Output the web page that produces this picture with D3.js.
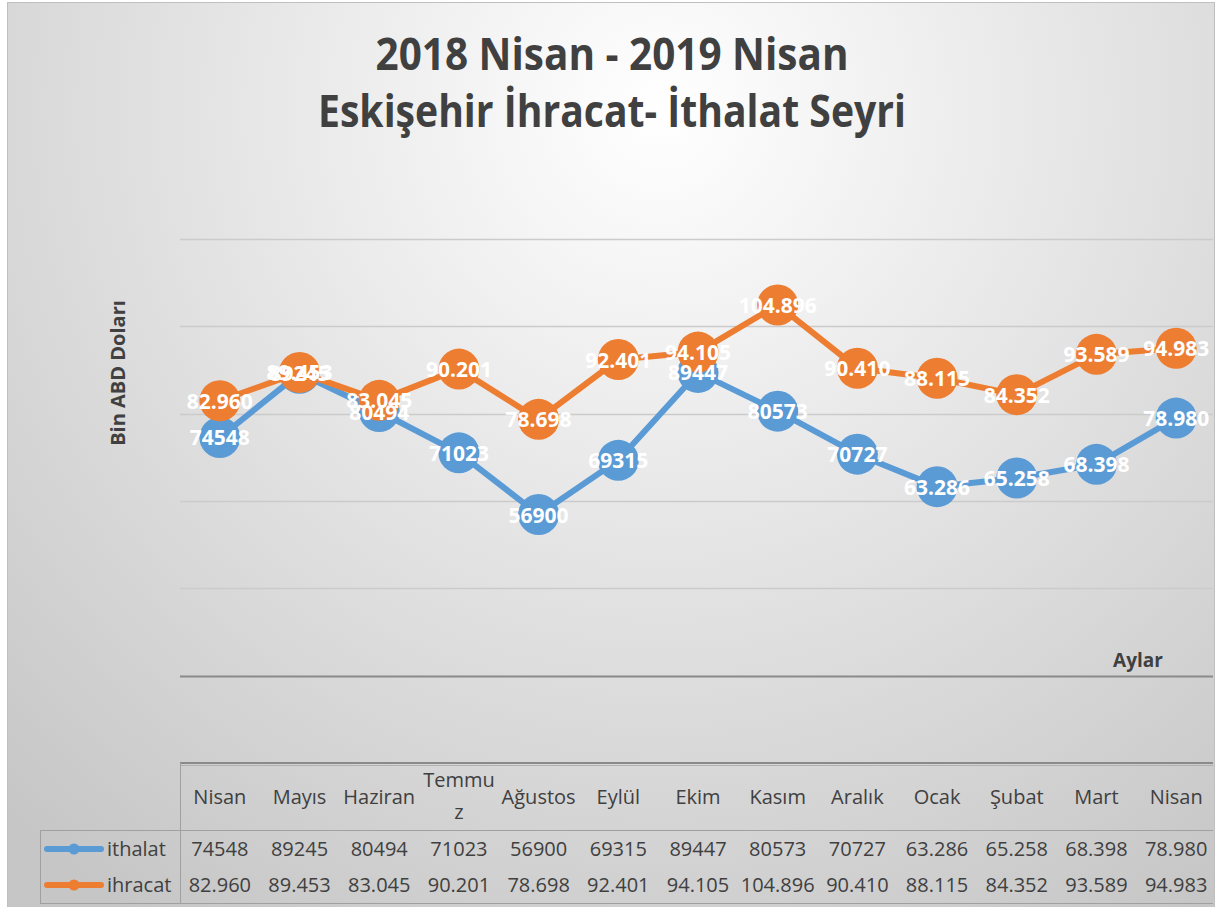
<!DOCTYPE html>
<html>
<head>
<meta charset="utf-8">
<script src="https://cdn.jsdelivr.net/npm/d3@7"></script>
<style>
  body { margin: 0; background: #ffffff; }
  svg { display: block; font-family: "Open Sans", sans-serif; }
</style>
</head>
<body>
<svg id="chart" width="1218" height="907"></svg>
<script>
// data
var aylar = ["Nisan","Mayıs","Haziran","Temmuz","Ağustos","Eylül","Ekim","Kasım","Aralık","Ocak","Şubat","Mart","Nisan"];
var ithalat = [74548, 89245, 80494, 71023, 56900, 69315, 89447, 80573, 70727, 63286, 65258, 68398, 78980];
var ihracat = [82960, 89453, 83045, 90201, 78698, 92401, 94105, 104896, 90410, 88115, 84352, 93589, 94983];
// labels exactly as printed in the chart
var ithalatText = ["74548","89245","80494","71023","56900","69315","89447","80573","70727","63.286","65.258","68.398","78.980"];
var ihracatText = ["82.960","89.453","83.045","90.201","78.698","92.401","94.105","104.896","90.410","88.115","84.352","93.589","94.983"];
var yTicks = [0, 20000, 40000, 60000, 80000, 100000, 120000];

var seriler = [
    {name: "ithalat", values: ithalat, text: ithalatText, color: "#5B9BD5"},
    {name: "ihracat", values: ihracat, text: ihracatText, color: "#ED7D31"}
];

var svg = d3.select("#chart");

// background
var defs = svg.append("defs");
var grad = defs.append("radialGradient")
    .attr("id", "bg")
    .attr("gradientUnits", "userSpaceOnUse")
    .attr("cx", 660).attr("cy", 110).attr("r", 960);
grad.append("stop").attr("offset", "0").attr("stop-color", "#ffffff");
grad.append("stop").attr("offset", "0.35").attr("stop-color", "#ebebeb");
grad.append("stop").attr("offset", "0.7").attr("stop-color", "#d7d7d7");
grad.append("stop").attr("offset", "1").attr("stop-color", "#c6c6c6");

svg.append("rect")
    .attr("x", 7.5).attr("y", 2.5)
    .attr("width", 1207).attr("height", 910)
    .attr("fill", "url(#bg)")
    .attr("stroke", "#bfbfbf");

// scales
var plotLeft = 180, plotRight = 1216;
var x = d3.scaleBand()
    .domain(d3.range(aylar.length))
    .range([plotLeft, plotRight]);
var y = d3.scaleLinear()
    .domain([0, 120000])
    .range([763, 239]);

// title
var title = svg.append("g").attr("fill", "#404040")
    .attr("font-weight", "bold").attr("font-size", "45px")
    .attr("text-anchor", "middle");
title.append("text").attr("x", 612).attr("y", 70)
    .attr("textLength", 473).attr("lengthAdjust", "spacingAndGlyphs")
    .text("2018 Nisan - 2019 Nisan");
title.append("text").attr("x", 612).attr("y", 127)
    .attr("textLength", 588).attr("lengthAdjust", "spacingAndGlyphs")
    .text("Eskişehir İhracat- İthalat Seyri");

// gridlines
svg.append("g").selectAll("line")
    .data(yTicks.filter(function(d){ return d > 0; }))
    .enter().append("line")
    .attr("x1", plotLeft).attr("x2", 1213)
    .attr("y1", function(d){ return Math.round(y(d)) + 0.5; })
    .attr("y2", function(d){ return Math.round(y(d)) + 0.5; })
    .attr("stroke", function(d){ return d == 20000 ? "#8a8a8a" : "#cbcbcb"; })
    .attr("stroke-width", function(d){ return d == 20000 ? 2 : 1.5; });

// axis titles
svg.append("text")
    .attr("transform", "translate(125,373) rotate(-90)")
    .attr("text-anchor", "middle")
    .attr("font-weight", "bold").attr("font-size", "20px")
    .attr("fill", "#404040")
    .text("Bin ABD Doları");

svg.append("text")
    .attr("x", 1138).attr("y", 667)
    .attr("text-anchor", "middle")
    .attr("font-weight", "bold").attr("font-size", "19px")
    .attr("fill", "#404040")
    .text("Aylar");

// lines and markers
var line = d3.line()
    .x(function(d, i){ return x(i) + x.bandwidth() / 2; })
    .y(function(d){ return y(d); });

seriler.forEach(function(s){
    var g = svg.append("g");
    g.append("path")
        .datum(s.values)
        .attr("d", line)
        .attr("fill", "none")
        .attr("stroke", s.color)
        .attr("stroke-width", 6)
        .attr("stroke-linejoin", "round");
    g.selectAll("circle")
        .data(s.values)
        .enter().append("circle")
        .attr("cx", function(d, i){ return x(i) + x.bandwidth() / 2; })
        .attr("cy", function(d){ return y(d); })
        .attr("r", 20.5)
        .attr("fill", s.color);
});

// data labels (centered on the markers, they overlap as in the original)
seriler.forEach(function(s){
    svg.append("g").selectAll("text")
        .data(s.values)
        .enter().append("text")
        .attr("x", function(d, i){ return x(i) + x.bandwidth() / 2; })
        .attr("y", function(d){ return y(d) + 8; })
        .attr("text-anchor", "middle")
        .attr("font-weight", "bold").attr("font-size", "21px")
        .attr("fill", "#ffffff")
        .text(function(d, i){ return s.text[i]; });
});

// data table
var table = svg.append("g").attr("stroke", "#a0a0a0").attr("fill", "none");
table.append("line").attr("x1", plotLeft).attr("x2", 1213).attr("y1", 763).attr("y2", 763)
    .attr("stroke", "#8a8a8a").attr("stroke-width", 2);
table.append("line").attr("x1", plotLeft).attr("x2", 1213).attr("y1", 765.5).attr("y2", 765.5)
    .attr("stroke", "#b0b0b0").attr("stroke-width", 1);
table.append("line").attr("x1", 40).attr("x2", 1213).attr("y1", 830.5).attr("y2", 830.5);
table.append("line").attr("x1", 40).attr("x2", 1213).attr("y1", 903.5).attr("y2", 903.5);
table.append("line").attr("x1", 180.5).attr("x2", 180.5).attr("y1", 763).attr("y2", 904);
table.append("line").attr("x1", 40.5).attr("x2", 40.5).attr("y1", 830).attr("y2", 904);

// month header, wrapped when wider than the column
var header = svg.append("g")
    .attr("font-size", "20px").attr("fill", "#404040")
    .attr("text-anchor", "middle");
aylar.forEach(function(m, i){
    var cx = x(i) + x.bandwidth() / 2;
    var t = header.append("text").attr("x", cx).attr("y", 804).text(m);
    if (t.node().getComputedTextLength() > x.bandwidth() - 2) {
        var cut = m.length;
        while (cut > 1) {
            t.text(m.slice(0, cut));
            if (t.node().getComputedTextLength() <= x.bandwidth() - 2) break;
            cut--;
        }
        t.text(null).attr("y", 787);
        t.append("tspan").attr("x", cx).text(m.slice(0, cut));
        t.append("tspan").attr("x", cx).attr("dy", 32).text(m.slice(cut));
    }
});

// rows
var rowY = [856, 892];
seriler.forEach(function(s, r){
    var g = svg.append("g");
    g.append("line")
        .attr("x1", 47).attr("x2", 101)
        .attr("y1", rowY[r] - 7).attr("y2", rowY[r] - 7)
        .attr("stroke", s.color).attr("stroke-width", 6)
        .attr("stroke-linecap", "round");
    g.append("circle")
        .attr("cx", 74).attr("cy", rowY[r] - 7).attr("r", 5.5)
        .attr("fill", s.color);
    g.append("text")
        .attr("x", 107).attr("y", rowY[r])
        .attr("font-size", "20px").attr("fill", "#404040")
        .text(s.name);
    g.selectAll("text.val")
        .data(s.text)
        .enter().append("text")
        .attr("class", "val")
        .attr("x", function(d, i){ return x(i) + x.bandwidth() / 2; })
        .attr("y", rowY[r])
        .attr("text-anchor", "middle")
        .attr("font-size", "20px").attr("fill", "#404040")
        .text(function(d){ return d; });
});
</script>
</body>
</html>
